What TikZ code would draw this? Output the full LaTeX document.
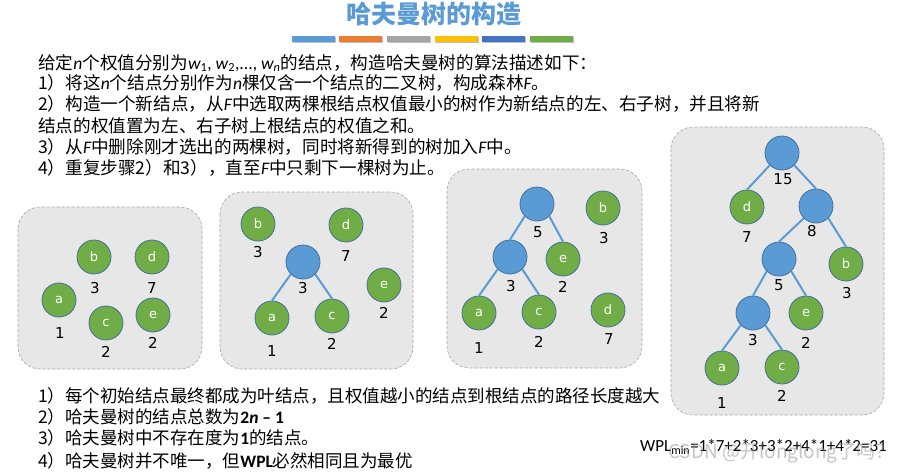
\documentclass[tikz,border=0pt]{standalone}
\usepackage{fontspec}
\setmainfont{Noto Sans CJK SC}
\newfontfamily\lat{Carlito}
\newfontfamily\dvs{DejaVu Sans}
\definecolor{leafgreen}{HTML}{70AD47}
\definecolor{nodeblue}{HTML}{5B9BD5}
\definecolor{nodeedge}{HTML}{41719C}
\definecolor{edgeblue}{HTML}{5B9BD5}
\definecolor{panelgray}{HTML}{E7E7E7}
\definecolor{panelborder}{HTML}{A6A6A6}
\definecolor{barA}{HTML}{5B9BD5}
\definecolor{barB}{HTML}{ED7D31}
\definecolor{barC}{HTML}{A5A5A5}
\definecolor{barD}{HTML}{FFC000}
\definecolor{barE}{HTML}{4472C4}
\definecolor{barF}{HTML}{70AD47}
\newcommand\iv[1]{{\lat\itshape #1}}
\tikzset{
  leaf/.style={circle, fill=leafgreen, draw=nodeedge, line width=0.8pt, minimum size=34, inner sep=0, text=white, font=\dvs\fontsize{13}{13}\selectfont},
  inode/.style={circle, fill=nodeblue, draw=nodeedge, line width=0.8pt, minimum size=34, inner sep=0},
  wt/.style={inner sep=0, font=\dvs\fontsize{15}{15}\selectfont},
  tedge/.style={draw=edgeblue, line width=2},
  panel/.style={fill=panelgray, draw=panelborder, densely dashed, line width=0.6pt, rounded corners=22},
  txt/.style={anchor=west, inner sep=0, font=\fontsize{17.6}{18}\selectfont},
  btxt/.style={anchor=west, inner sep=0, font=\fontsize{17.5}{18}\selectfont},
  bar/.style={inner sep=0, minimum width=43, minimum height=6, draw=none},
}
\begin{document}
\begin{tikzpicture}[x=1pt, y=-1pt]
\useasboundingbox (0,0) rectangle (904,471);
\fill[white] (0,0) rectangle (904,471);
% title
\node[inner sep=0, text=nodeblue, font=\bfseries\fontsize{25}{25}\selectfont] (title) at (434,14) {哈夫曼树的构造};
\foreach \c/\x [count=\i] in {barA/313, barB/360, barC/408, barD/456, barE/503, barF/551}{
  \node[bar, fill=black!25] (sh\i) at (\x+1,40) {};
  \node[bar, fill=\c] (bar\i) at (\x,39) {};
}
% top text
\node[txt] (t1) at (38,63) {给定\iv{n}个权值分别为\iv{w}{\lat\textsubscript{1}}{\lat, }\iv{w}{\lat\textsubscript{2}}{\lat,..., }\iv{w}{\lat\textsubscript{\itshape n}}的结点，构造哈夫曼树的算法描述如下：};
\node[txt] (t2) at (38,83) {1）将这\iv{n}个结点分别作为\iv{n}棵仅含一个结点的二叉树，构成森林\iv{F}。};
\node[txt] (t3) at (38,104) {2）构造一个新结点，从\iv{F}中选取两棵根结点权值最小的树作为新结点的左、右子树，并且将新};
\node[txt] (t4) at (38,126) {结点的权值置为左、右子树上根结点的权值之和。};
\node[txt] (t5) at (38,147) {3）从\iv{F}中删除刚才选出的两棵树，同时将新得到的树加入\iv{F}中。};
\node[txt] (t6) at (38,168) {4）重复步骤2）和3），直至\iv{F}中只剩下一棵树为止。};
% panels
\draw[panel] (18,207) rectangle (202,369);
\draw[panel] (220,192) rectangle (413,369);
\draw[panel] (447,169) rectangle (642,368);
\draw[panel] (671,127) rectangle (884,415);
% panel 1
\node[leaf] (p1a) at (59,300) {a};
\node[leaf] (p1b) at (94,257) {b};
\node[leaf] (p1c) at (106,323) {c};
\node[leaf] (p1d) at (152,257) {d};
\node[leaf] (p1e) at (153,315) {e};
\node[wt] (w1a) at (60,333) {1};
\node[wt] (w1b) at (95,288) {3};
\node[wt] (w1c) at (106,352) {2};
\node[wt] (w1d) at (152,288) {7};
\node[wt] (w1e) at (153,343) {2};
% panel 2
\node[leaf] (p2b) at (258,224) {b};
\node[leaf] (p2d) at (346,225) {d};
\node[inode] (p2r) at (303,262) {};
\node[leaf] (p2e) at (384,285) {e};
\node[leaf] (p2a) at (272,318) {a};
\node[leaf] (p2c) at (332,316) {c};
\node[wt] (w2b) at (258,252) {3};
\node[wt] (w2d) at (346,256) {7};
\node[wt] (w2r) at (303,288) {3};
\node[wt] (w2e) at (384,313) {2};
\node[wt] (w2a) at (272,351) {1};
\node[wt] (w2c) at (332,344) {2};
\draw[tedge] (p2r.south west) -- (p2a.north);
\draw[tedge] (p2r.south east) -- (p2c.north);
% panel 3
\node[inode] (p3r) at (537,204) {};
\node[leaf] (p3b) at (603,208) {b};
\node[inode] (p3s) at (510,257) {};
\node[leaf] (p3e) at (563,259) {e};
\node[leaf] (p3a) at (479,313) {a};
\node[leaf] (p3c) at (539,312) {c};
\node[leaf] (p3d) at (608,310) {d};
\node[wt] (w3r) at (538,232) {5};
\node[wt] (w3b) at (604,238) {3};
\node[wt] (w3s) at (511,286) {3};
\node[wt] (w3e) at (563,287) {2};
\node[wt] (w3a) at (479,348) {1};
\node[wt] (w3c) at (539,342) {2};
\node[wt] (w3d) at (609,339) {7};
\draw[tedge] (p3r.south west) -- (p3s.north);
\draw[tedge] (p3r.south east) -- (p3e.north);
\draw[tedge] (p3s.south west) -- (p3a.north);
\draw[tedge] (p3s.south east) -- (p3c.north);
% panel 4
\node[inode] (p4r) at (782,153) {};
\node[leaf] (p4d) at (747,207) {d};
\node[inode] (p4h) at (816,206) {};
\node[inode] (p4f) at (779,259) {};
\node[leaf] (p4b) at (846,264) {b};
\node[inode] (p4t) at (753,313) {};
\node[leaf] (p4e) at (806,313) {e};
\node[leaf] (p4a) at (722,368) {a};
\node[leaf] (p4c) at (782,367) {c};
\node[wt] (w4r) at (783,179) {15};
\node[wt] (w4d) at (747,237) {7};
\node[wt] (w4h) at (812,231) {8};
\node[wt] (w4f) at (779,285) {5};
\node[wt] (w4b) at (847,293) {3};
\node[wt] (w4t) at (753,340) {3};
\node[wt] (w4e) at (806,343) {2};
\node[wt] (w4a) at (722,403) {1};
\node[wt] (w4c) at (782,396) {2};
\draw[tedge] (p4r.south west) -- (p4d.north);
\draw[tedge] (p4r.south east) -- (p4h.north);
\draw[tedge] (p4h.south west) -- (p4f.north);
\draw[tedge] (p4h.south east) -- (p4b.north);
\draw[tedge] (p4f.south west) -- (p4t.north);
\draw[tedge] (p4f.south east) -- (p4e.north);
\draw[tedge] (p4t.south west) -- (p4a.north);
\draw[tedge] (p4t.south east) -- (p4c.north);
% bottom text
\node[btxt] (b1) at (38,396) {1）每个初始结点最终都成为叶结点，且权值越小的结点到根结点的路径长度越大};
\node[btxt] (b2) at (38,417) {2）哈夫曼树的结点总数为{\lat\bfseries 2\itshape n\upshape\ – 1}};
\node[btxt] (b3) at (38,438) {3）哈夫曼树中不存在度为{\lat\bfseries 1}的结点。};
\node[btxt] (b4) at (38,461) {4）哈夫曼树并不唯一，但{\lat\bfseries WPL}必然相同且为最优};
% WPL
\node[anchor=west, inner sep=0, font=\lat\fontsize{17}{17}\selectfont] (wpl) at (640,447) {WPL\textsubscript{min}=1*7+2*3+3*2+4*1+4*2=31};
\node[anchor=west, inner sep=0, text=black!45, opacity=0.5, font=\fontsize{19}{19}\selectfont] (wm) at (668,453) {CSDN @开longlong了吗？};
\end{tikzpicture}
\end{document}
